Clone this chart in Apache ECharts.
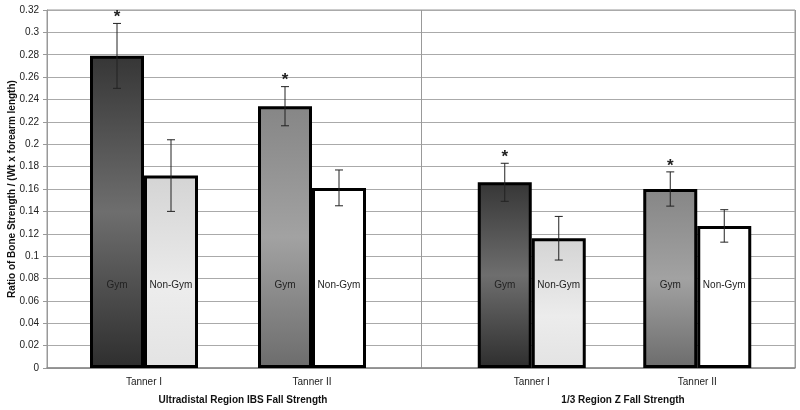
<!DOCTYPE html>
<html>
<head>
<meta charset="utf-8">
<script src="https://cdn.jsdelivr.net/npm/echarts@6/dist/echarts.min.js"></script>
<style>
  html, body { margin: 0; padding: 0; background: #fff; }
  #chart { width: 800px; height: 410px; }
</style>
</head>
<body>
<div id="chart"></div>
<script>
// categories
const tanners = ['Tanner I', 'Tanner II'];
const regions = ['Ultradistal Region IBS Fall Strength', '1/3 Region Z Fall Strength'];
const groups = ['Gym', 'Non-Gym'];

// ultradistal region, mean and error (+/-)
const udGym = [0.279, 0.234];
const udGymErr = [0.029, 0.0175];
const udNonGym = [0.172, 0.161];
const udNonGymErr = [0.032, 0.016];

// 1/3 region
const zGym = [0.166, 0.160];
const zGymErr = [0.017, 0.0153];
const zNonGym = [0.116, 0.127];
const zNonGymErr = [0.0195, 0.0145];

// significance stars over gym bars
const udSig = [true, true];
const zSig = [true, true];

// y axis ticks
const yMin = 0, yMax = 0.32, yStep = 0.02;

const font = 'Liberation Sans, Arial, sans-serif';
const BAR_W = 54;

function grad(stops) {
  return new echarts.graphic.LinearGradient(0, 0, 0, 1,
    stops.map(s => ({ offset: s[0], color: s[1] })));
}
// fills per tanner stage (index 0 = Tanner I, 1 = Tanner II)
const gymFill = [
  () => grad([[0, '#363636'], [0.5, '#6e6e6e'], [1, '#2e2e2e']]),
  () => grad([[0, '#868686'], [0.5, '#a2a2a2'], [1, '#6c6c6c']])
];
const nonGymFill = [
  () => grad([[0, '#d4d4d4'], [0.6, '#ececec'], [1, '#e3e3e3']]),
  () => '#ffffff'
];

function barSeries(name, vals, fills, gi) {
  return {
    name: name,
    type: 'bar',
    xAxisIndex: gi,
    yAxisIndex: gi,
    barWidth: BAR_W,
    barGap: '0%',
    data: vals.map((v, i) => ({
      value: v,
      itemStyle: { color: fills[i]() }
    })),
    itemStyle: { borderColor: '#000', borderWidth: 3 },
    label: {
      show: true,
      position: 'insideBottom',
      distance: 78,
      formatter: '{a}',
      color: '#222',
      fontSize: 10,
      fontFamily: font
    },
    z: 2
  };
}

function errSeries(vals, errs, sig, shift, gi) {
  return {
    type: 'custom',
    xAxisIndex: gi,
    yAxisIndex: gi,
    z: 4,
    silent: true,
    data: vals.map((v, i) => [i, v, errs[i], sig ? (sig[i] ? 1 : 0) : 0]),
    renderItem: function (params, api) {
      const i = api.value(0), v = api.value(1), e = api.value(2);
      const hi = api.coord([i, v + e]);
      const lo = api.coord([i, v - e]);
      const x = hi[0] + shift;
      const st = { stroke: '#222', lineWidth: 1 };
      const kids = [
        { type: 'line', shape: { x1: x, y1: hi[1], x2: x, y2: lo[1] }, style: st },
        { type: 'line', shape: { x1: x - 4, y1: hi[1], x2: x + 4, y2: hi[1] }, style: st },
        { type: 'line', shape: { x1: x - 4, y1: lo[1], x2: x + 4, y2: lo[1] }, style: st }
      ];
      if (api.value(3)) {
        kids.push({
          type: 'text',
          style: {
            text: '*', x: x, y: hi[1] - 6,
            align: 'center', verticalAlign: 'middle',
            font: 'bold 17px ' + font, fill: '#222'
          }
        });
      }
      return { type: 'group', children: kids };
    }
  };
}

function innerX(gi) {
  return {
    type: 'category',
    gridIndex: gi,
    data: tanners,
    axisLine: { show: false },
    axisTick: { show: false },
    axisLabel: { margin: 9, color: '#222', fontSize: 10, fontFamily: font }
  };
}
function innerY(gi) {
  return {
    type: 'value', gridIndex: gi, min: yMin, max: yMax, interval: yStep,
    axisLine: { show: false }, axisTick: { show: false },
    axisLabel: { show: false }, splitLine: { show: false }
  };
}

const chart = echarts.init(document.getElementById('chart'));
chart.setOption({
  animation: false,
  backgroundColor: '#fff',
  textStyle: { fontFamily: font },
  grid: [
    { left: 47, right: 5, top: 10, bottom: 42, show: true, borderColor: '#999', borderWidth: 1, outerBoundsMode: 'none' },
    { left: 60, width: 336, top: 10, bottom: 42, outerBoundsMode: 'none' },
    { left: 449, width: 331, top: 10, bottom: 42, outerBoundsMode: 'none' }
  ],
  xAxis: [
    {
      type: 'category',
      gridIndex: 0,
      data: regions,
      axisLine: { show: true, lineStyle: { color: '#888', width: 1.5 } },
      axisTick: { show: false },
      axisLabel: {
        margin: 27, color: '#111', fontSize: 10, fontWeight: 'bold', fontFamily: font,
        formatter: function (v, i) { return i === 0 ? '{a|' + v + '}' : '{b|' + v + '}'; },
        rich: {
          a: { fontSize: 10, fontWeight: 'bold', fontFamily: font, padding: [0, 0, 0, 18] },
          b: { fontSize: 10, fontWeight: 'bold', fontFamily: font, padding: [0, 0, 0, 30] }
        }
      },
      splitLine: { show: true, lineStyle: { color: '#999', width: 1 } }
    },
    innerX(1),
    innerX(2)
  ],
  yAxis: [
    {
      type: 'value',
      gridIndex: 0,
      min: yMin, max: yMax, interval: yStep,
      name: 'Ratio of Bone Strength / (Wt x forearm length)',
      nameLocation: 'middle',
      nameGap: 30,
      nameMoveOverlap: false,
      nameTextStyle: { fontSize: 10, fontWeight: 'bold', color: '#111', fontFamily: font },
      axisLine: { show: true, lineStyle: { color: '#999', width: 1 } },
      axisTick: { show: true, length: 4, lineStyle: { color: '#999' } },
      axisLabel: {
        margin: 8, color: '#222', fontSize: 10, fontFamily: font,
        formatter: v => String(parseFloat(v.toFixed(2)))
      },
      splitLine: { show: true, lineStyle: { color: '#aaa', width: 1 } }
    },
    innerY(1),
    innerY(2)
  ],
  series: [
    barSeries(groups[0], udGym, gymFill, 1),
    barSeries(groups[1], udNonGym, nonGymFill, 1),
    barSeries(groups[0], zGym, gymFill, 2),
    barSeries(groups[1], zNonGym, nonGymFill, 2),
    errSeries(udGym, udGymErr, udSig, -BAR_W / 2, 1),
    errSeries(udNonGym, udNonGymErr, null, BAR_W / 2, 1),
    errSeries(zGym, zGymErr, zSig, -BAR_W / 2, 2),
    errSeries(zNonGym, zNonGymErr, null, BAR_W / 2, 2)
  ]
});
</script>
</body>
</html>
